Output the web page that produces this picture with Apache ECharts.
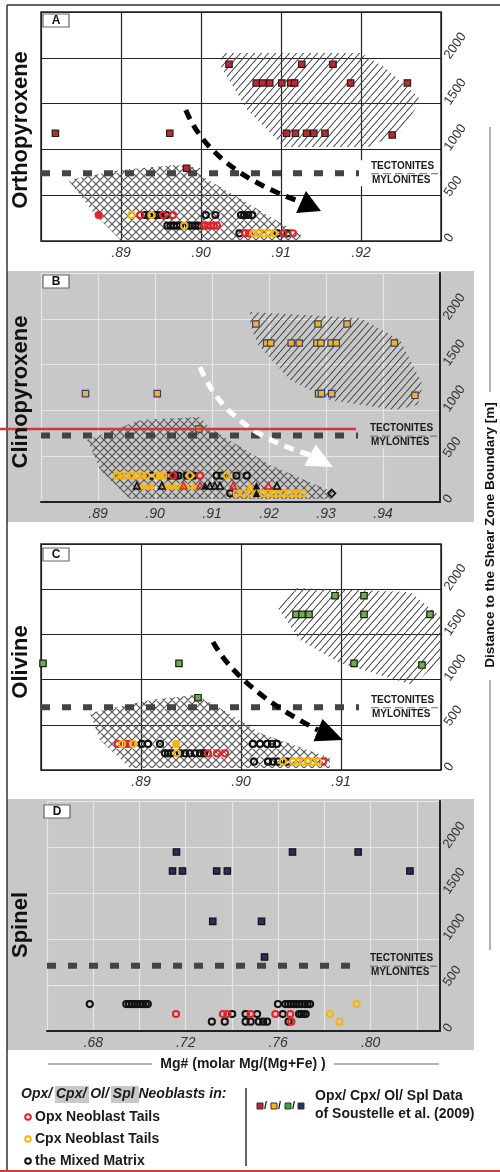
<!DOCTYPE html>
<html><head><meta charset="utf-8">
<script src="https://cdn.jsdelivr.net/npm/echarts@6/dist/echarts.min.js"></script>
<style>html,body{margin:0;padding:0;background:#fff}#c{width:500px;height:1172px}</style>
</head><body><div id="c"></div>
<script>
// ---------- tick labels ----------
const xTicksA = ['.89','.90','.91','.92'];
const xTicksB = ['.89','.90','.91','.92','.93','.94'];
const xTicksC = ['.89','.90','.91'];
const xTicksD = ['.68','.72','.76','.80'];
const yTicks = ['0','500','1000','1500','2000'];
const tectoniteBoundary = [740, 725, 694, 710];

// ---------- Panel A: Orthopyroxene [Mg#, distance m] ----------
const opxSoustelle = [[0.9035,1930],[0.9126,1930],[0.9165,1930],
 [0.9069,1725],[0.9077,1725],[0.9086,1725],[0.9101,1725],[0.9112,1725],[0.9117,1725],[0.9187,1725],[0.9258,1725],
 [0.8818,1176],[0.8961,1176],[0.9107,1176],[0.9118,1176],[0.9132,1176],[0.9141,1176],[0.9155,1176],[0.9239,1157],
 [0.8982,794]];
const opxOpxTails = [[0.8924,284],[0.8953,284],[0.8965,284],[0.9004,167],[0.9008,167],[0.9012,167],[0.9016,167],[0.9020,167],
 [0.9055,84],[0.9060,84],[0.9103,84],[0.9115,84]];
const opxCpxTails = [[0.8913,284],[0.8938,284],[0.8979,167],[0.9066,84],[0.9072,84],[0.9078,84],[0.9085,84],[0.9091,84]];
const opxMatrix = [[0.8930,284],[0.8935,284],[0.8943,284],[0.8948,284],[0.8957,284],[0.9006,284],[0.9018,284],
 [0.9050,284],[0.9054,284],[0.9059,284],[0.9064,284],
 [0.8958,167],[0.8962,167],[0.8966,167],[0.8970,167],[0.8974,167],[0.8985,167],[0.8989,167],[0.8993,167],[0.8997,167],
 [0.9048,84],[0.9096,84],[0.9108,84]];
const opxFilledRed = [[0.8872,284]];
const opxTectoniteField = [[0.9025,2052],[0.9200,2052],[0.9229,1900],[0.9272,1572],[0.9272,1507],[0.9250,1179],[0.9209,1026],[0.9104,1026],[0.9058,1430],[0.9025,1900]];
const opxMyloniteField = [[0.8834,666],[0.8899,775],[0.8968,830],[0.8999,797],[0.8999,721],[0.9062,393],[0.9125,66],[0.9125,11],[0.8899,11],[0.8868,284]];
const opxTrend = [[0.8981,1430],[0.9012,775],[0.9125,426],[0.9150,328]];

// ---------- Panel B: Clinopyroxene ----------
const cpxSoustelle = [[0.9177,1943],[0.9286,1943],[0.9337,1943],
 [0.9196,1736],[0.9203,1736],[0.9239,1736],[0.9253,1736],[0.9284,1736],[0.9291,1736],[0.9309,1736],[0.9318,1736],[0.9420,1736],
 [0.8878,1183],[0.9004,1183],[0.9287,1183],[0.9292,1183],[0.9310,1183],[0.9456,1165],
 [0.9077,797]];
const cpxOpxTails = [[0.9032,287],[0.9079,287]];
const cpxCpxTails = [[0.8933,287],[0.8942,287],[0.8950,287],[0.8959,287],[0.8968,287],[0.8977,287],[0.8985,287],
 [0.9003,287],[0.9009,287],[0.9015,287],[0.9061,287],[0.9126,287],
 [0.9143,95],[0.9155,95],[0.9167,95],[0.9181,95],[0.9190,95],[0.9199,95],[0.9208,95],[0.9216,95],[0.9225,95],
 [0.9234,95],[0.9243,95],[0.9251,95],[0.9260,95]];
const cpxMatrix = [[0.8994,287],[0.9026,287],[0.9035,287],[0.9041,287],[0.9056,287],[0.9068,287],[0.9108,287],
 [0.9117,287],[0.9143,287],[0.9161,287],[0.9132,95]];
const cpxTriBlack = [[0.8968,178],[0.9012,178],[0.9096,178],[0.9105,178],[0.9114,178],[0.9214,178]];
const cpxTriYellow = [[0.8977,178],[0.8985,178],[0.8994,178],[0.9018,178],[0.9026,178],[0.9035,178],[0.9044,178],
 [0.9056,178],[0.9068,178],[0.9167,178]];
const cpxTriRed = [[0.9050,178],[0.9079,178],[0.9137,178],[0.9199,178]];
const cpxTriBlackFilled = [[0.9088,178],[0.9178,178],[0.9178,95]];
const cpxDiamond = [[0.9310,95]];
const cpxTectoniteField = [[0.9167,2074],[0.9360,2009],[0.9430,1769],[0.9470,1277],[0.9461,1059],[0.9421,1004],[0.9307,1114],[0.9237,1332],[0.9181,1714],[0.9167,1932]];
const cpxMyloniteField = [[0.8881,677],[0.8974,895],[0.9079,928],[0.9096,808],[0.9202,404],[0.9312,109],[0.9312,33],[0.8956,33],[0.8904,349]];
const cpxTrend = [[0.9079,1474],[0.9123,786],[0.9272,513],[0.9312,382]];

// ---------- Panel C: Olivine ----------
const olSoustelle = [[0.9094,1928],[0.9123,1928],[0.9055,1722],[0.9061,1722],[0.9068,1722],[0.9123,1722],[0.9189,1722],
 [0.8802,1180],[0.8938,1180],[0.9113,1180],[0.9181,1161],[0.8957,800]];
const olOpxTails = [[0.8877,288],[0.8886,288],[0.8889,288],[0.8967,184],[0.8976,184],[0.8984,184],[0.9082,92]];
const olCpxTails = [[0.8881,288],[0.8892,288],[0.8936,184],[0.9042,92],[0.9052,92],[0.9057,92],[0.9062,92],[0.9067,92],[0.9072,92],[0.9077,92]];
const olCpxFilled = [[0.8935,288]];
const olMatrix = [[0.8901,288],[0.8907,288],[0.8919,288],[0.9012,288],[0.9019,288],[0.9026,288],[0.9031,288],[0.9036,288],
 [0.8924,184],[0.8927,184],[0.8930,184],[0.8939,184],[0.8944,184],[0.8949,184],[0.8954,184],[0.8959,184],[0.8963,184],
 [0.9013,92],[0.9027,92],[0.9032,92],[0.9037,92],[0.9046,92]];
const olTectoniteField = [[0.9036,1803],[0.9056,2013],[0.9169,1969],[0.9200,1692],[0.9200,1217],[0.9172,940],[0.9099,1184],[0.9059,1438]];
const olMyloniteField = [[0.8849,631],[0.8909,774],[0.8954,830],[0.8974,719],[0.9019,409],[0.9089,133],[0.9089,22],[0.8889,22],[0.8859,332]];
const olTrend = [[0.8972,1416],[0.8999,885],[0.9077,442],[0.9102,332]];

// ---------- Panel D: Spinel ----------
const splSoustelle = [[0.7160,1946],[0.7662,1946],[0.7946,1946],[0.7143,1739],[0.7186,1739],[0.7334,1739],[0.7380,1739],
 [0.8170,1739],[0.7317,1192],[0.7528,1192],[0.7541,804]];
const splOpxTails = [[0.7158,185],[0.7361,185],[0.7380,185],[0.7481,185],[0.7588,185],[0.7652,185],[0.7657,101]];
const splCpxTails = [[0.7939,293],[0.7824,185],[0.7865,101]];
const splMatrix = [[0.6785,293],[0.6943,293],[0.6955,293],[0.6967,293],[0.6979,293],[0.6991,293],[0.7003,293],[0.7015,293],
 [0.7027,293],[0.7036,293],[0.7599,293],[0.7631,293],[0.7643,293],[0.7655,293],[0.7667,293],[0.7679,293],[0.7691,293],
 [0.7703,293],[0.7715,293],[0.7727,293],[0.7738,293],
 [0.7401,185],[0.7459,185],[0.7509,185],[0.7620,185],[0.7690,185],[0.7700,185],[0.7710,185],[0.7719,185],
 [0.7313,101],[0.7369,101],[0.7459,101],[0.7481,101],[0.7516,101],[0.7535,101],[0.7552,101],[0.7645,101]];

// ---------- styling / helpers ----------
const FF = '"Liberation Sans", Arial, Helvetica, sans-serif';
const RED = '#e0242a', YEL = '#f6b50f', BLK = '#111111', GRAY = '#c8c8c8';

function makeHatch(w, h, color, lw, cross) {
  const c = document.createElement('canvas'); c.width = w; c.height = h;
  const g = c.getContext('2d'); g.strokeStyle = color; g.lineWidth = lw; g.beginPath();
  for (const k of [-w, 0, w]) {
    g.moveTo(k, h); g.lineTo(k + w, 0);
    if (cross) { g.moveTo(k, 0); g.lineTo(k + w, h); }
  }
  g.stroke(); return c;
}
const diagPattern = {type: 'pattern', image: makeHatch(7, 8, '#4a4a4a', 1.1, false), repeat: 'repeat'};
const crossPattern = {type: 'pattern', image: makeHatch(8, 8, '#555', 1.2, true), repeat: 'repeat'};

function fieldSeries(gi, pts, pattern) {
  return {type: 'custom', xAxisIndex: gi, yAxisIndex: gi, z: 1, silent: true, data: pts, encode: {x: 0, y: 1},
    renderItem: (params, api) => {
      if (params.dataIndex !== 0) return null;
      return {type: 'polygon', shape: {points: pts.map(p => api.coord(p))}, style: {fill: pattern, stroke: null}};
    }};
}
function boundarySeries(gi, depth, bg) {
  return {type: 'custom', xAxisIndex: gi, yAxisIndex: gi, z: 2, silent: true, data: [[0, depth]],
    renderItem: (params, api) => {
      const cs = params.coordSys;
      const y = api.coord([api.value(0), api.value(1)])[1];
      const x0 = cs.x, x1 = cs.x + cs.width;
      const font = 'bold 10px ' + FF;
      return {type: 'group', children: [
        {type: 'line', shape: {x1: x0, y1: y, x2: x1, y2: y}, style: {stroke: '#444', lineWidth: 6, lineDash: [9, 12]}},
        {type: 'rect', shape: {x: x1 - 82, y: y - 13, width: 79, height: 26}, style: {fill: bg}},
        {type: 'line', shape: {x1: x1 - 70, y1: y + 0.5, x2: x1 - 3, y2: y + 0.5}, style: {stroke: '#666', lineWidth: 1, lineDash: [8, 4]}},
        {type: 'text', style: {text: 'TECTONITES', x: x1 - 70, y: y - 7, font, fill: '#1a1a1a', align: 'left', verticalAlign: 'middle'}},
        {type: 'text', style: {text: 'MYLONITES', x: x1 - 69, y: y + 7, font, fill: '#1a1a1a', align: 'left', verticalAlign: 'middle'}}
      ]};
    }};
}
function arrowSeries(gi, pts, color) {
  return {type: 'custom', xAxisIndex: gi, yAxisIndex: gi, z: 6, silent: true, data: pts, encode: {x: 0, y: 1},
    renderItem: (params, api) => {
      if (params.dataIndex !== 0) return null;
      const [s, c, e, t] = pts.map(p => api.coord(p));
      const dx = t[0] - e[0], dy = t[1] - e[1], L = Math.hypot(dx, dy);
      const px = -dy / L * 12, py = dx / L * 12;
      return {type: 'group', children: [
        {type: 'bezierCurve', shape: {x1: s[0], y1: s[1], cpx1: c[0], cpy1: c[1], x2: e[0], y2: e[1]},
          style: {stroke: color, lineWidth: 5, lineDash: [10, 7], fill: null}},
        {type: 'polygon', shape: {points: [t, [e[0] + px, e[1] + py], [e[0] - px, e[1] - py]]}, style: {fill: color, stroke: null}}
      ]};
    }};
}
function sc(gi, data, symbol, size, itemStyle, z) {
  return {type: 'scatter', xAxisIndex: gi, yAxisIndex: gi, data, symbol, symbolSize: size,
    itemStyle: Object.assign({opacity: 1}, itemStyle), z: z || 3, silent: true};
}
const ring = c => ({color: 'rgba(0,0,0,0)', borderColor: c, borderWidth: 2});
const sq = (fill, border) => ({color: fill, borderColor: border, borderWidth: 1.2});
const CS = 6.2, SS = 6.4;

function xAx(gi, min, max, interval, ticks, white) {
  return {gridIndex: gi, type: 'value', min, max, interval,
    axisLine: white ? {show: false} : {show: true, onZero: false, lineStyle: {color: '#222', width: 2}},
    axisTick: {show: false},
    splitLine: {show: true, lineStyle: white ? {color: '#222', width: 1.2} : {color: '#e6e6e6', width: 1.2}},
    axisLabel: {fontStyle: 'italic', fontSize: 14, color: '#333', margin: 5, fontFamily: FF,
      formatter: v => { const s = v.toFixed(2).replace(/^0/, ''); return ticks.includes(s) ? s : ''; }}};
}
function yAx(gi, white) {
  return {gridIndex: gi, type: 'value', position: 'right', min: 0, max: 2500, interval: 500,
    axisLine: white ? {show: false} : {show: true, onZero: false, lineStyle: {color: '#222', width: 2}},
    axisTick: {show: false},
    splitLine: {show: true, lineStyle: white ? {color: '#222', width: 1.2} : {color: '#e6e6e6', width: 1.2}},
    axisLabel: {rotate: 55, fontSize: 13, color: '#333', margin: 6, fontFamily: FF,
      formatter: v => { const s = String(Math.round(v)); return yTicks.includes(s) ? s : ''; }}};
}

const series = [
  // A
  fieldSeries(0, opxTectoniteField, diagPattern), fieldSeries(0, opxMyloniteField, crossPattern),
  boundarySeries(0, tectoniteBoundary[0], '#fff'),
  sc(0, opxSoustelle, 'rect', SS, sq('#c9232b', '#222')),
  sc(0, opxMatrix, 'circle', CS, ring(BLK)), sc(0, opxOpxTails, 'circle', CS, ring(RED)),
  sc(0, opxCpxTails, 'circle', CS, ring(YEL)), sc(0, opxFilledRed, 'circle', 8, {color: RED}),
  arrowSeries(0, opxTrend, '#000'),
  // B
  fieldSeries(1, cpxTectoniteField, diagPattern), fieldSeries(1, cpxMyloniteField, crossPattern),
  boundarySeries(1, tectoniteBoundary[1], GRAY),
  sc(1, cpxSoustelle, 'rect', SS, sq('#f5b324', '#34406e')),
  sc(1, cpxMatrix, 'circle', CS, ring(BLK)), sc(1, cpxOpxTails, 'circle', CS, ring(RED)),
  sc(1, cpxCpxTails, 'circle', CS, ring(YEL)),
  sc(1, cpxTriYellow, 'triangle', 7.5, {color: YEL}),
  sc(1, cpxTriBlack, 'triangle', 6.5, {color: 'rgba(0,0,0,0)', borderColor: BLK, borderWidth: 1.6}),
  sc(1, cpxTriRed, 'triangle', 6.5, {color: 'rgba(0,0,0,0)', borderColor: RED, borderWidth: 1.6}),
  sc(1, cpxTriBlackFilled, 'triangle', 7.5, {color: BLK}),
  sc(1, cpxDiamond, 'diamond', 7.5, {color: 'rgba(0,0,0,0)', borderColor: BLK, borderWidth: 1.8}),
  arrowSeries(1, cpxTrend, '#fff'),
  // C
  fieldSeries(2, olTectoniteField, diagPattern), fieldSeries(2, olMyloniteField, crossPattern),
  boundarySeries(2, tectoniteBoundary[2], '#fff'),
  sc(2, olSoustelle, 'rect', SS, sq('#6cae47', '#1a1a1a')),
  sc(2, olMatrix, 'circle', CS, ring(BLK)), sc(2, olOpxTails, 'circle', CS, ring(RED)),
  sc(2, olCpxTails, 'circle', CS, ring(YEL)), sc(2, olCpxFilled, 'circle', 8.5, {color: YEL}),
  arrowSeries(2, olTrend, '#000'),
  // D
  boundarySeries(3, tectoniteBoundary[3], GRAY),
  sc(3, splSoustelle, 'rect', SS, sq('#22325f', '#111')),
  sc(3, splMatrix, 'circle', CS, ring(BLK)), sc(3, splOpxTails, 'circle', CS, ring(RED)),
  sc(3, splCpxTails, 'circle', CS, ring(YEL))
];

function letterBox(x, y, ch) {
  return [{type: 'rect', z: 20, silent: true, shape: {x, y, width: 26, height: 13}, style: {fill: '#fff', stroke: '#666', lineWidth: 1.2}},
    {type: 'text', z: 21, silent: true, x: x + 13, y: y + 7, style: {text: ch, font: 'bold 12px ' + FF, fill: '#111', align: 'center', verticalAlign: 'middle'}}];
}
const vt = (x, y, t, f) => ({type: 'text', z: 20, silent: true, x, y, rotation: Math.PI / 2,
  style: {text: t, font: f, fill: '#111', align: 'center', verticalAlign: 'middle'}});
const ln = (x1, y1, x2, y2, c, w) => ({type: 'line', z: 19, silent: true, shape: {x1, y1, x2, y2}, style: {stroke: c, lineWidth: w}});
const lt = (x, y, t, f) => ({type: 'text', z: 20, silent: true, x, y, style: {text: t, font: f, fill: '#1a1a1a', align: 'left', verticalAlign: 'middle'}});
const lsq = (x, c) => ({type: 'rect', z: 20, silent: true, shape: {x, y: 1103, width: 6, height: 6}, style: {fill: c, stroke: '#333', lineWidth: 1}});
const lcirc = (y, c) => ({type: 'circle', z: 20, silent: true, shape: {cx: 28, cy: y, r: 2.8}, style: {fill: 'none', stroke: c, lineWidth: 2}});

const graphic = [
  {type: 'rect', z: -10, silent: true, shape: {x: 7, y: 271, width: 467, height: 251}, style: {fill: GRAY}},
  {type: 'rect', z: -10, silent: true, shape: {x: 7, y: 799, width: 467, height: 251}, style: {fill: GRAY}},
  ln(7, 5, 500, 5, '#333', 1.5), ln(7, 5, 7, 1172, '#333', 1.5),
  ...letterBox(43, 14, 'A'), ...letterBox(43, 275, 'B'), ...letterBox(43, 548, 'C'), ...letterBox(44, 805, 'D'),
  vt(21, 130, 'Orthopyroxene', 'bold 22px ' + FF), vt(21, 392, 'Clinopyroxene', 'bold 22px ' + FF),
  vt(21, 662, 'Olivine', 'bold 22px ' + FF), vt(21, 925, 'Spinel', 'bold 22px ' + FF),
  vt(490, 535, 'Distance to the Shear Zone Boundary [m]', 'bold 13.5px ' + FF),
  ln(490, 127, 490, 392, '#999', 1.5), ln(490, 680, 490, 950, '#999', 1.5),
  {type: 'text', z: 20, silent: true, x: 243, y: 1064, style: {text: 'Mg# (molar Mg/(Mg+Fe) )', font: 'bold 14px ' + FF, fill: '#1a1a1a', align: 'center', verticalAlign: 'middle'}},
  ln(48, 1064, 152, 1064, '#999', 1.5), ln(334, 1064, 439, 1064, '#999', 1.5),
  // legend
  {type: 'rect', z: 18, silent: true, shape: {x: 55, y: 1086, width: 34, height: 17}, style: {fill: GRAY}},
  {type: 'rect', z: 18, silent: true, shape: {x: 111, y: 1086, width: 28, height: 17}, style: {fill: GRAY}},
  lt(21, 1094, 'Opx/ Cpx/ Ol/ Spl Neoblasts in:', 'italic bold 14px ' + FF),
  lcirc(1117, RED), lcirc(1139, YEL), lcirc(1161, BLK),
  lt(35, 1117, 'Opx Neoblast Tails', 'bold 14px ' + FF),
  lt(35, 1139, 'Cpx Neoblast Tails', 'bold 14px ' + FF),
  lt(35, 1161, 'the Mixed Matrix', 'bold 14px ' + FF),
  ln(246, 1088, 246, 1166, '#333', 1.5),
  lsq(257, '#c9232b'), lsq(271, '#f5b324'), lsq(285, '#3aa04a'), lsq(298, '#22325f'),
  lt(264, 1106, '/', 'bold 11px ' + FF), lt(278, 1106, '/', 'bold 11px ' + FF), lt(292, 1106, '/', 'bold 11px ' + FF),
  lt(315, 1096, 'Opx/ Cpx/ Ol/ Spl Data', 'bold 14px ' + FF),
  lt(315, 1114, 'of Soustelle et al. (2009)', 'bold 14px ' + FF),
  // red annotation lines present in the reference
  ln(0, 429, 356, 429, '#d6373b', 2.5), ln(0, 1171, 500, 1171, '#d6373b', 2)
];

const chart = echarts.init(document.getElementById('c'), null, {renderer: 'canvas'});
chart.setOption({
  animation: false,
  backgroundColor: '#fff',
  grid: [
    {left: 41, top: 12, width: 400, height: 229, show: true, borderColor: '#222', borderWidth: 1.5, backgroundColor: '#fff', outerBoundsMode: 'none'},
    {left: 41, top: 273, width: 399, height: 229, outerBoundsMode: 'none'},
    {left: 41, top: 544, width: 400, height: 226, show: true, borderColor: '#222', borderWidth: 1.5, backgroundColor: '#fff', outerBoundsMode: 'none'},
    {left: 47, top: 801, width: 393, height: 230, outerBoundsMode: 'none'}
  ],
  xAxis: [xAx(0, 0.88, 0.93, 0.01, xTicksA, true), xAx(1, 0.88, 0.95, 0.01, xTicksB, false),
          xAx(2, 0.88, 0.92, 0.01, xTicksC, true), xAx(3, 0.66, 0.83, 0.02, xTicksD, false)],
  yAxis: [yAx(0, true), yAx(1, false), yAx(2, true), yAx(3, false)],
  series,
  graphic
});
</script></body></html>
